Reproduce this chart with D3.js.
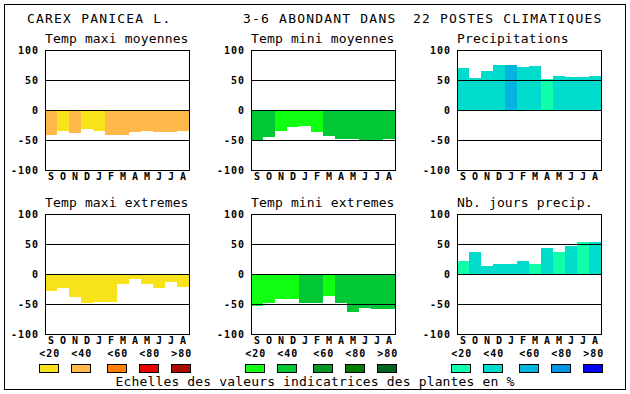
<!DOCTYPE html>
<html>
<head>
<meta charset="utf-8">
<script src="https://cdn.jsdelivr.net/npm/d3@7"></script>
<style>
  body { margin: 0; background: #fff; }
  svg { display: block; }
  text { font-family: "DejaVu Sans Mono", "Liberation Mono", monospace; fill: #000; }
  .tick-lbl, .month, .cls { font-weight: bold; font-size: 10px; }
</style>
</head>
<body>
<svg id="chart" width="630" height="394"></svg>
<script>
(function() {
    'use strict';

    // ---- data ----
    const months = ['S', 'O', 'N', 'D', 'J', 'F', 'M', 'A', 'M', 'J', 'J', 'A'];
    const yTicks = [-100, -50, 0, 50, 100];
    const classLabels = ['<20', '<40', '<60', '<80', '>80'];

    const warmColors = ['#f8e31a', '#ffb84a', '#ff8000', '#e80000', '#a80c00'];
    const greenColors = ['#11ff11', '#00c834', '#009628', '#007d00', '#00641e'];
    const blueColors = ['#11ffaa', '#00dccc', '#00b4dc', '#0096e6', '#0000ff'];

    const tmaxMoyValues = [-42, -35, -38, -32, -35, -42, -42, -37, -35, -37, -37, -35];
    const tmaxMoyClasses = [1, 0, 1, 0, 0, 1, 1, 1, 1, 1, 1, 1];

    const tminMoyValues = [-50, -45, -35, -28, -27, -37, -43, -48, -48, -50, -50, -48];
    const tminMoyClasses = [1, 1, 0, 0, 0, 0, 1, 1, 1, 1, 1, 1];

    const precipValues = [70, 53, 65, 75, 75, 72, 73, 52, 57, 55, 55, 57];
    const precipClasses = [1, 1, 1, 1, 2, 1, 1, 0, 1, 1, 1, 1];

    const tmaxExtValues = [-28, -24, -38, -49, -46, -46, -17, -8, -16, -24, -14, -21];
    const tmaxExtClasses = [0, 0, 0, 0, 0, 0, 0, 0, 0, 0, 0, 0];

    const tminExtValues = [-53, -49, -41, -41, -48, -49, -36, -49, -64, -56, -58, -58];
    const tminExtClasses = [0, 0, 0, 0, 1, 1, 0, 1, 1, 1, 1, 1];

    const nbJoursValues = [22, 37, 14, 17, 16, 22, 16, 44, 36, 46, 54, 54];
    const nbJoursClasses = [0, 1, 1, 1, 1, 1, 0, 1, 0, 1, 0, 1];

    const panels = [
        { title: 'Temp maxi moyennes', values: tmaxMoyValues, classes: tmaxMoyClasses, colors: warmColors, col: 0, row: 0 },
        { title: 'Temp mini moyennes', values: tminMoyValues, classes: tminMoyClasses, colors: greenColors, col: 1, row: 0 },
        { title: 'Precipitations', values: precipValues, classes: precipClasses, colors: blueColors, col: 2, row: 0 },
        { title: 'Temp maxi extremes', values: tmaxExtValues, classes: tmaxExtClasses, colors: warmColors, col: 0, row: 1 },
        { title: 'Temp mini extremes', values: tminExtValues, classes: tminExtClasses, colors: greenColors, col: 1, row: 1 },
        { title: 'Nb. jours precip.', values: nbJoursValues, classes: nbJoursClasses, colors: blueColors, col: 2, row: 1 }
    ];

    // ---- layout ----
    const svg = d3.select('#chart');
    const colX = [45, 251, 457];
    const rowY = [50, 214];
    const plotW = 144;
    const plotH = 120;

    // outer frame
    svg.append('rect')
        .attr('x', 4.5).attr('y', 4.5)
        .attr('width', 621).attr('height', 385)
        .attr('fill', 'none').attr('stroke', '#000').attr('stroke-width', 1);

    // header
    const header = svg.append('g')
        .style('font-size', '13px')
        .style('letter-spacing', '1.2px');
    header.append('text').attr('x', 27).attr('y', 23).text('CAREX PANICEA L.');
    header.append('text').attr('x', 243).attr('y', 23).text('3-6 ABONDANT DANS');
    header.append('text').attr('x', 413).attr('y', 23).text('22 POSTES CLIMATIQUES');

    panels.forEach(p => {
        const x0 = colX[p.col];
        const y0 = rowY[p.row];

        const x = d3.scaleBand()
            .domain(d3.range(months.length))
            .range([x0, x0 + plotW])
            .padding(0);
        const y = d3.scaleLinear()
            .domain([-100, 100])
            .range([y0 + plotH, y0]);

        const g = svg.append('g');

        g.append('text')
            .attr('x', x0)
            .attr('y', y0 - 7)
            .style('font-size', '13px')
            .style('letter-spacing', '0.15px')
            .text(p.title);

        // bars
        g.append('g')
            .selectAll('rect')
            .data(p.values)
            .enter()
            .append('rect')
            .attr('x', (d, i) => x(i))
            .attr('width', x.bandwidth())
            .attr('y', d => Math.min(y(0), y(d)))
            .attr('height', d => Math.abs(y(d) - y(0)))
            .attr('fill', (d, i) => p.colors[p.classes[i]])
            .attr('shape-rendering', 'crispEdges');

        // grid lines over the bars
        g.append('g')
            .selectAll('line')
            .data([50, 0, -50])
            .enter()
            .append('line')
            .attr('x1', x0)
            .attr('x2', x0 + plotW)
            .attr('y1', d => Math.round(y(d)) + 0.5)
            .attr('y2', d => Math.round(y(d)) + 0.5)
            .attr('stroke', '#000')
            .attr('stroke-width', 1);

        // frame
        g.append('rect')
            .attr('x', x0 + 0.5)
            .attr('y', y0 + 0.5)
            .attr('width', plotW)
            .attr('height', plotH)
            .attr('fill', 'none')
            .attr('stroke', '#000')
            .attr('stroke-width', 1);

        // y tick labels
        g.append('g')
            .selectAll('text')
            .data(yTicks)
            .enter()
            .append('text')
            .attr('class', 'tick-lbl')
            .attr('x', x0 - 6)
            .attr('y', d => y(d))
            .attr('dy', '0.36em')
            .attr('text-anchor', 'end')
            .style('letter-spacing', '1px')
            .text(d => d);

        // month letters
        g.append('g')
            .selectAll('text')
            .data(months)
            .enter()
            .append('text')
            .attr('class', 'month')
            .attr('x', (d, i) => x(i) + x.bandwidth() / 2)
            .attr('y', y0 + plotH + 10)
            .attr('text-anchor', 'middle')
            .text(d => d);

        // class legend under bottom row
        if (p.row === 1) {
            const offsets = [-5.7, 26.3, 62.3, 94.3, 126.3];
            const leg = g.append('g');
            leg.selectAll('text.cls')
                .data(classLabels)
                .enter()
                .append('text')
                .attr('class', 'cls')
                .attr('x', (d, i) => x0 + offsets[i])
                .attr('y', 357)
                .style('letter-spacing', '1px')
                .text(d => d);
            leg.selectAll('rect')
                .data(p.colors)
                .enter()
                .append('rect')
                .attr('x', (d, i) => Math.round(x0 + offsets[i]) + 0.5)
                .attr('y', 364.5)
                .attr('width', 19)
                .attr('height', 8)
                .attr('fill', d => d)
                .attr('stroke', '#000')
                .attr('stroke-width', 1);
        }
    });

    svg.append('text')
        .attr('x', 315)
        .attr('y', 386)
        .attr('text-anchor', 'middle')
        .style('font-size', '13px')
        .style('letter-spacing', '0.15px')
        .text('Echelles des valeurs indicatrices des plantes en %');
})();
</script>
</body>
</html>
